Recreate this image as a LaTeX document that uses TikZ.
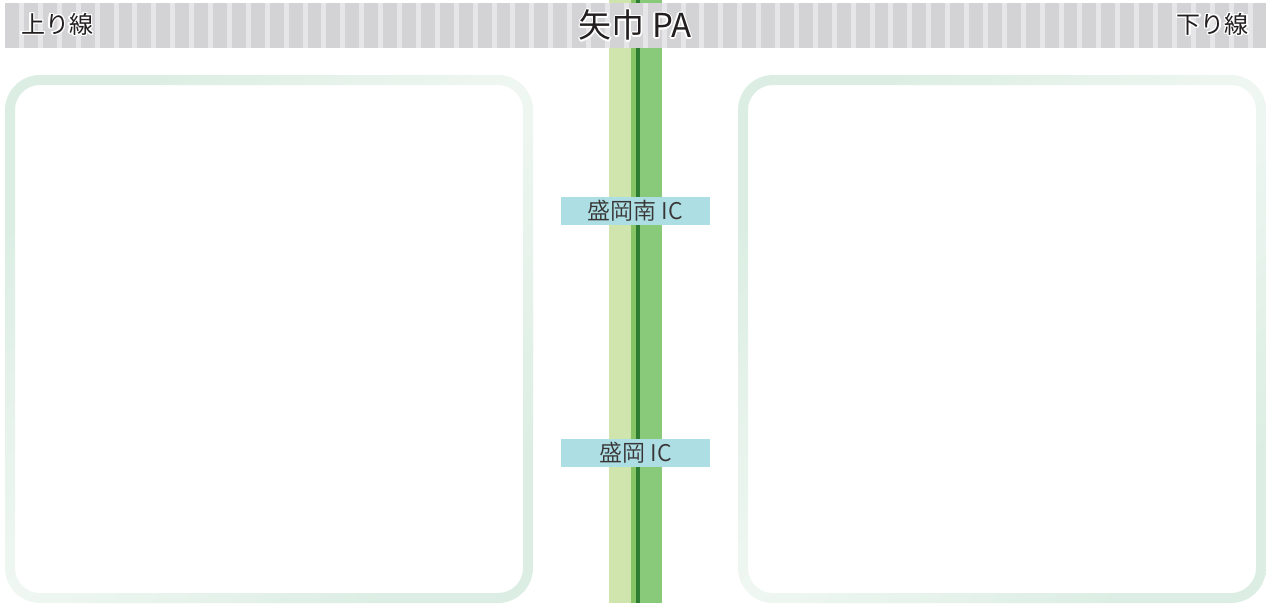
\documentclass[tikz,border=0pt]{standalone}
\usepackage{fontspec}
\usepackage{contour}
\newfontfamily\jpfont{Noto Sans CJK JP}
\newfontfamily\jplight{Noto Sans CJK JP DemiLight}
\contourlength{1.3pt}
\definecolor{stripedark}{HTML}{D3D3D5}
\definecolor{stripelight}{HTML}{E6E6E8}
\definecolor{roadlight}{HTML}{CFE5AD}
\definecolor{roadmid}{HTML}{86C466}
\definecolor{roaddark}{HTML}{2E7D32}
\definecolor{roadgreen}{HTML}{88C97A}
\definecolor{icbox}{HTML}{ACDEE3}
\definecolor{panelline}{HTML}{DCEEE3}
\definecolor{panelmid}{HTML}{F0F7F3}
\definecolor{textcol}{HTML}{231F20}
\tikzset{
  headtext/.style={text=textcol,inner sep=0pt,font=\jpfont\fontsize{24}{24}\selectfont},
  iclabel/.style={fill=icbox,text=textcol!90,minimum width=149pt,minimum height=28pt,inner sep=0pt,font=\jplight\fontsize{23}{23}\selectfont},
  panel/.style={even odd rule,top color=panelline,bottom color=panelline,middle color=panelmid,shading angle=45}
}
\begin{document}
\begin{tikzpicture}[x=1pt,y=-1pt]
        \useasboundingbox (0,0) rectangle (1266,603);
        % road
        \fill [roadlight] (609,0) rectangle (631,603);
        \fill [roadmid] (631,0) rectangle (636,603);
        \fill [roaddark] (636,0) rectangle (640,603);
        \fill [roadgreen] (640,0) rectangle (662,603);
        % header band
        \fill [stripedark] (5,3) rectangle (1266,48);
        \foreach \i in {0,...,65}{
            \fill [stripelight] ({19+18.9*\i},3) rectangle +(5,45);
        }
        \node [headtext,anchor=west] (up) at (21,25) {\contour{white}{上り線}};
        \node [headtext,anchor=east] (down) at (1249,25) {\contour{white}{下り線}};
        \node [headtext,font=\jpfont\fontsize{33}{33}\selectfont] (pa) at (635,26) {\contour{white}{矢巾 PA}};
        % panels
        \shade [panel] [rounded corners=35pt] (5,75) rectangle (533,603) [rounded corners=25pt] (15,85) rectangle (523,593);
        \shade [panel] [rounded corners=35pt] (738,75) rectangle (1266,603) [rounded corners=25pt] (748,85) rectangle (1256,593);
        % interchanges
        \node [iclabel] (ic1) at (635.5,211) {盛岡南 IC};
        \node [iclabel] (ic2) at (635.5,453) {盛岡 IC};
\end{tikzpicture}
\end{document}
